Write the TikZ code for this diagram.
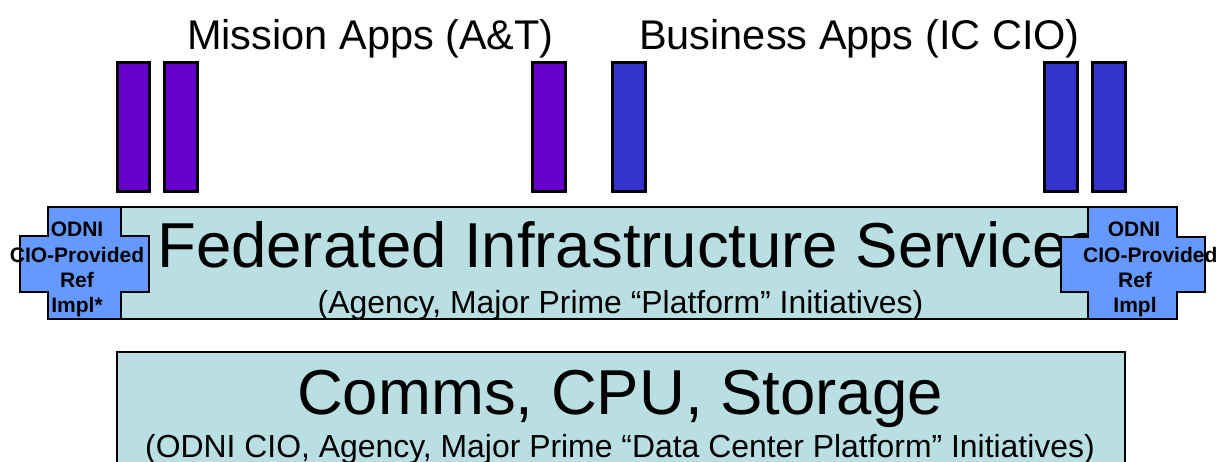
\documentclass[tikz,border=0pt]{standalone}
\usepackage{fontspec}
\setmainfont{Liberation Sans}
\definecolor{layerfill}{HTML}{BADFE3}
\definecolor{crossfill}{HTML}{6699FF}
\definecolor{missionbar}{HTML}{6600CC}
\definecolor{businessbar}{HTML}{3333CC}
\tikzset{
  appbar/.style={draw=black, line width=3pt},
  layerbox/.style={draw=black, line width=2.8pt, fill=layerfill},
  crossshape/.style={draw=black, line width=2.8pt, fill=crossfill},
  titletext/.style={inner sep=0pt, font=\fontsize{41.5}{49}\selectfont},
  bigtext/.style={inner sep=0pt, font=\fontsize{63.5}{76}\selectfont},
  subtext/.style={inner sep=0pt, font=\fontsize{31.9}{38}\selectfont},
  crosstext/.style={inner sep=0pt, font=\bfseries\fontsize{21}{25}\selectfont},
}
\begin{document}
\begin{tikzpicture}[x=1pt,y=-1pt]
\useasboundingbox (0,0) rectangle (1221,462);
\clip (0,0) rectangle (1221,462);
% titles
\node[titletext, anchor=base west] (mission) at (187,50) {Mission Apps (A\&T)};
\node[titletext, anchor=base west] (business) at (639,50) {Business Apps (IC CIO)};
% application bars
\draw[appbar, fill=missionbar] (117,63) rectangle (149,192);
\draw[appbar, fill=missionbar] (164,63) rectangle (197,192);
\draw[appbar, fill=missionbar] (532,63) rectangle (565,192);
\draw[appbar, fill=businessbar] (612,63) rectangle (645,192);
\draw[appbar, fill=businessbar] (1044,63) rectangle (1077,192);
\draw[appbar, fill=businessbar] (1092,63) rectangle (1125,192);
% federated layer
\draw[layerbox] (48,207) rectangle (1177,319);
\node[bigtext, anchor=base west] (fedtitle) at (157,268) {Federated Infrastructure Services};
\node[subtext, anchor=base] (fedsub) at (620.5,314) {(Agency, Major Prime “Platform” Initiatives)};
% left cross
\draw[crossshape] (48,207) -- (121,207) -- (121,236) -- (149,236) -- (149,292) -- (121,292)
  -- (121,319) -- (48,319) -- (48,292) -- (20,292) -- (20,236) -- (48,236) -- cycle;
\node[crosstext, anchor=base] (l1) at (77,237) {ODNI};
\node[crosstext, anchor=base] (l2) at (77,262.5) {CIO-Provided};
\node[crosstext, anchor=base] (l3) at (77,288) {Ref};
\node[crosstext, anchor=base] (l4) at (77,313) {Impl*};
% right cross
\draw[crossshape] (1088,207) -- (1177,207) -- (1177,237) -- (1205,237) -- (1205,292) -- (1177,292)
  -- (1177,319) -- (1088,319) -- (1088,292) -- (1061,292) -- (1061,237) -- (1088,237) -- cycle;
\node[crosstext, anchor=base] (r1) at (1134,237) {ODNI};
\node[crosstext, anchor=base west] (r2) at (1083,262.5) {CIO-Provided};
\node[crosstext, anchor=base] (r3) at (1135,288) {Ref};
\node[crosstext, anchor=base] (r4) at (1135,313) {Impl};
% bottom layer
\draw[layerbox] (117,352) rectangle (1125,480);
\node[bigtext, anchor=base] (comms) at (620,414) {Comms, CPU, Storage};
\node[subtext, anchor=base] (commssub) at (620,457) {(ODNI CIO, Agency, Major Prime “Data Center Platform” Initiatives)};
\end{tikzpicture}
\end{document}
